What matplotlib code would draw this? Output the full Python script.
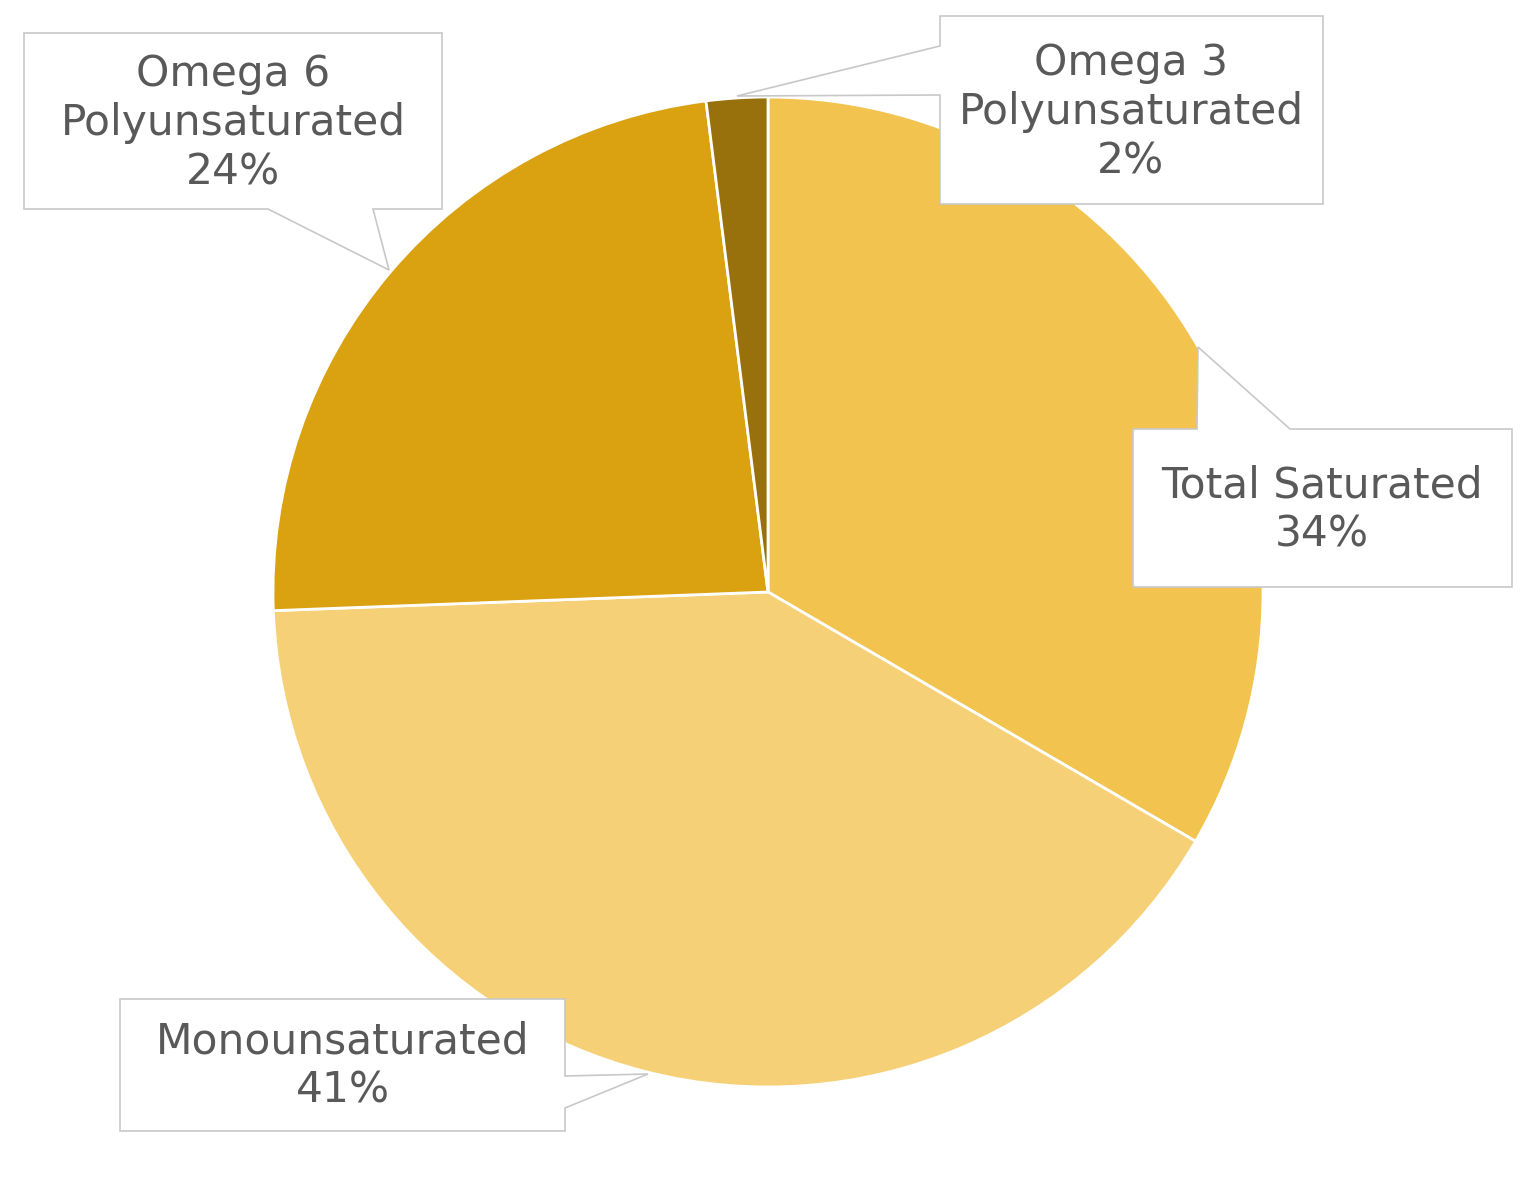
import matplotlib.pyplot as plt
from matplotlib.patches import Polygon

labels = ["Total Saturated", "Monounsaturated", "Omega 6\nPolyunsaturated", "Omega 3\nPolyunsaturated"]
values = [33.4, 41.0, 23.6, 2.0]
shown_pct = ["34%", "41%", "24%", "2%"]
colors = ["#F2C44F", "#F6D077", "#DAA211", "#98700C"]

W, H = 1536, 1184
fig = plt.figure(figsize=(W / 100, H / 100), dpi=100)
ax = fig.add_axes([0, 0, 1, 1])
ax.set_xlim(0, W)
ax.set_ylim(0, H)
ax.set_aspect("equal")
ax.axis("off")

# pie in pixel space (y measured from the top of the image)
cx, cy, r = 768, 592, 495
ax.pie(values, colors=colors, startangle=90, counterclock=False,
       center=(cx, H - cy), radius=r,
       wedgeprops=dict(edgecolor="white", linewidth=2))
ax.set_xlim(0, W)
ax.set_ylim(0, H)

# callout shapes, points given in image pixels (top-left origin)
callouts = [
    [(1133, 429), (1197, 429), (1198, 347), (1290, 429), (1512, 429), (1512, 587), (1133, 587)],
    [(120, 999), (565, 999), (565, 1076), (648, 1074), (565, 1108), (565, 1131), (120, 1131)],
    [(24, 33), (442, 33), (442, 209), (373, 209), (389, 270), (268, 209), (24, 209)],
    [(940, 16), (1323, 16), (1323, 204), (940, 204), (940, 95), (737, 96), (940, 46)],
]
text_pos = [(1322, 510), (343, 1066), (233, 123), (1131, 112)]

for pts, (tx, ty), lab, pct in zip(callouts, text_pos, labels, shown_pct):
    poly = Polygon([(x, H - y) for x, y in pts], closed=True, facecolor="white",
                   edgecolor="#C8C8C8", linewidth=1.2, zorder=3)
    ax.add_patch(poly)
    ax.text(tx, H - ty, lab + "\n" + pct, ha="center", va="center", fontsize=30.5,
            family="DejaVu Sans", color="#595959", linespacing=1.22, zorder=4)

fig.savefig("out.png", dpi=100)
